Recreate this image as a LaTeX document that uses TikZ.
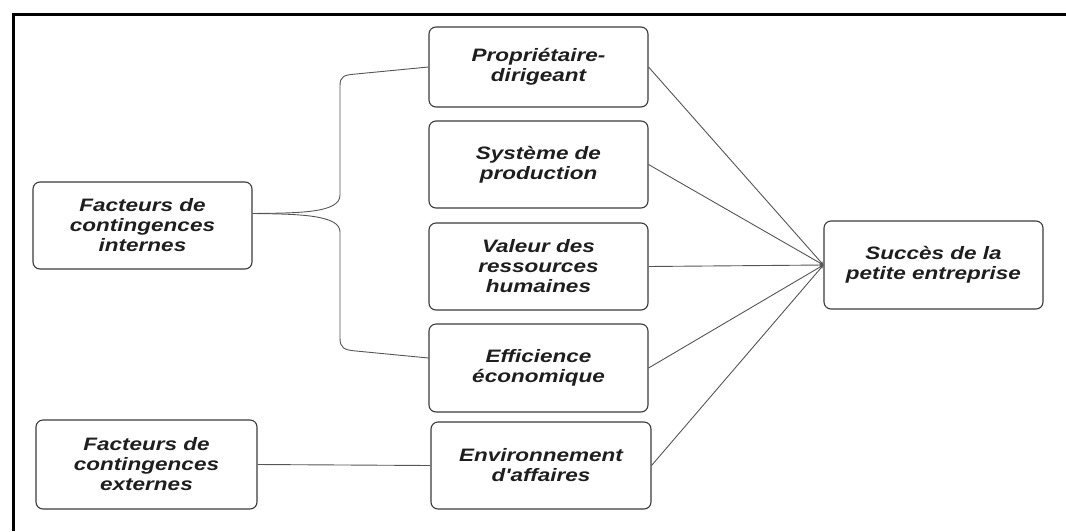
\documentclass[tikz,border=0pt]{standalone}
\usepackage{fontspec}
\newfontfamily\lblfont{Liberation Sans}[FakeStretch=1.25]
\usetikzlibrary{arrows.meta}
\definecolor{boxline}{HTML}{3A3A3A}
\definecolor{linkline}{HTML}{555555}
\definecolor{txt}{HTML}{1E1E1E}
\tikzset{
  box/.style={draw=boxline, line width=1.1pt, rounded corners=7pt, align=center,
    text=txt, inner sep=0pt,
    font=\lblfont\bfseries\itshape\fontsize{18}{20}\selectfont},
  link/.style={draw=linkline, line width=0.9pt},
  tolink/.style={link, -{Stealth[length=4pt,width=3pt]}},
  frameline/.style={draw=black, line width=3pt}
}
\begin{document}
\begin{tikzpicture}[x=1pt,y=-1pt]
\useasboundingbox (0,0) rectangle (1066,531);
% frame (top and left edges)
\coordinate (fl) at (13,531);
\coordinate (fc) at (13,14);
\coordinate (fr) at (1066,14);
\draw[frameline] (fl) -- (fc) -- (fr);
% boxes
\node[box, minimum width=219pt, minimum height=80pt] (b1) at (538.5,67) {Propriétaire-\\dirigeant};
\node[box, minimum width=219pt, minimum height=87pt] (b2) at (538.5,164.5) {Système de\\production};
\node[box, minimum width=219pt, minimum height=87pt] (b3) at (538.5,266.5) {Valeur des\\ressources\\humaines};
\node[box, minimum width=219pt, minimum height=88pt] (b4) at (538.5,368) {Efficience\\économique};
\node[box, minimum width=220pt, minimum height=87pt] (b5) at (541,465.5) {Environnement\\d'affaires};
\node[box, minimum width=219pt, minimum height=87pt] (int) at (142.5,225.5) {Facteurs de\\contingences\\internes};
\node[box, minimum width=221pt, minimum height=89pt] (ext) at (146.5,464.5) {Facteurs de\\contingences\\externes};
\node[box, minimum width=219pt, minimum height=88pt] (suc) at (933.5,265) {Succès de la\\petite entreprise};
% bracket from internal factors
\coordinate (s) at ([yshift=12pt]int.east);
\draw[link] (s) .. controls (300,213) and (340,213) .. (340,195) -- (340,86)
  .. controls (340,76) and (344,75) .. (356,74) -- ([yshift=0pt]b1.west);
\draw[link] (s) .. controls (300,214) and (340,215) .. (340,232) -- (340,338)
  .. controls (340,348) and (344,350) .. (356,351) -- ([yshift=10pt]b4.west);
% external factors
\draw[link] (ext.east) -- (b5.west);
% to success
\foreach \b in {b1,b2,b3,b4,b5}{
  \draw[tolink] (\b.east) -- (suc.west);
}
\end{tikzpicture}
\end{document}
